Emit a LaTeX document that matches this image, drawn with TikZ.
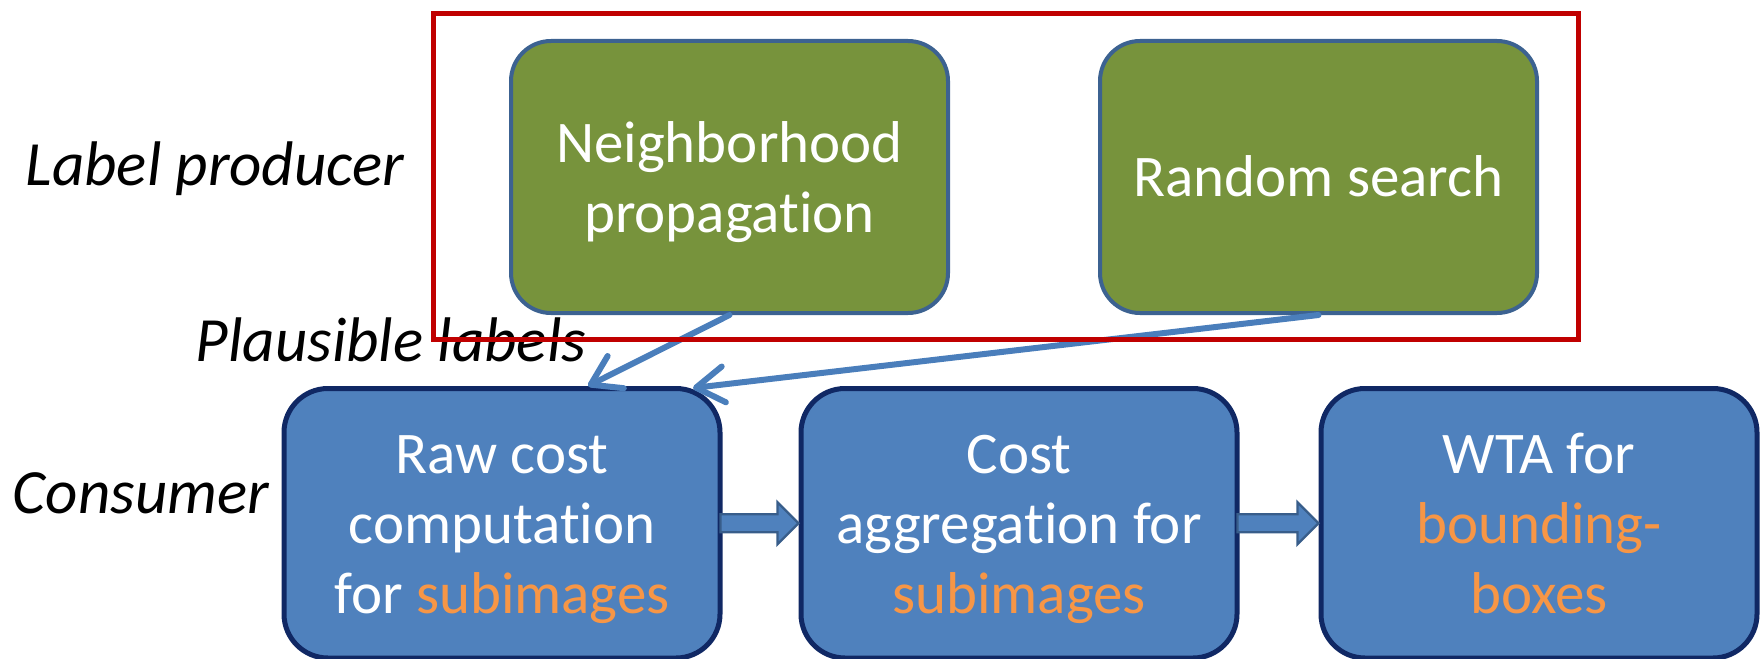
\documentclass[tikz,border=0pt]{standalone}
\usepackage{fontspec}
\setmainfont[Ligatures={NoCommon}]{Carlito}
\usetikzlibrary{arrows.meta,calc}
\definecolor{boxblue}{RGB}{79,129,189}
\definecolor{boxnavy}{RGB}{16,40,100}
\definecolor{boxgreen}{RGB}{119,147,60}
\definecolor{greenedge}{RGB}{60,98,145}
\definecolor{hiorange}{RGB}{247,150,70}
\definecolor{framered}{RGB}{192,0,0}
\definecolor{arrowblue}{RGB}{74,126,187}
\definecolor{blockedge}{RGB}{56,93,138}
\begin{document}
\begin{tikzpicture}[x=0.5pt,y=-0.5pt,
  greenbox/.style={draw=greenedge, line width=2pt, fill=boxgreen, rounded corners=20pt,
    minimum width=218.5pt, minimum height=136pt, inner sep=0pt},
  bluebox/.style={draw=boxnavy, line width=2.5pt, fill=boxblue, rounded corners=22pt,
    minimum width=218pt, minimum height=134.75pt, inner sep=0pt},
  boxtext/.style={text=white, font=\fontsize{29.5pt}{35pt}\selectfont, align=center, inner sep=0pt},
  lbl/.style={font=\fontsize{31.5pt}{36pt}\selectfont\itshape, anchor=base, inner sep=0pt},
  thinarrow/.style={draw=arrowblue, line width=3pt, line cap=round,
    -{Straight Barb[length=14pt,width=18pt,line cap=round,line join=round]}},
  blockarrow/.style={fill=boxblue, draw=blockedge, line width=1.2pt},
  frame/.style={draw=framered, line width=2.5pt, minimum width=572.5pt, minimum height=163pt, inner sep=0pt}
]
\useasboundingbox (0,0) rectangle (1760,658);

% label producer boxes
\node[greenbox] (g1) at (729.5,177) {};
\node[boxtext] (t1) at ($(g1.center)+(0,6)$) {\strut Neighborhood\\\strut propagation};
\node[greenbox] (g2) at (1318.5,177) {};
\node[boxtext] (t2) at ($(g2.center)+(0,5)$) {\strut Random search};

% consumer boxes
\node[bluebox] (b1) at (502,523.25) {};
\node[boxtext] (t3) at ($(b1.center)+(0,6.25)$) {\strut Raw cost\\\strut computation\\\strut for \textcolor{hiorange}{subimages}};
\node[bluebox] (b2) at (1019,523.25) {};
\node[boxtext] (t4) at ($(b2.center)+(0,6.25)$) {\strut Cost\\\strut aggregation for\\\strut \textcolor{hiorange}{subimages}};
\node[bluebox] (b3) at (1539,523.25) {};
\node[boxtext] (t5) at ($(b3.center)+(0,6.25)$) {\strut WTA for\\\strut \textcolor{hiorange}{bounding-}\\\strut \textcolor{hiorange}{boxes}};

% block arrows
\draw[blockarrow] ($(b1.east)+(-2,-9)$) -- ($(b2.west)+(-21,-9)$) -- ($(b2.west)+(-21,-21)$)
  -- (b2.west) -- ($(b2.west)+(-21,21)$) -- ($(b2.west)+(-21,9)$) -- ($(b1.east)+(-2,9)$) -- cycle;
\draw[blockarrow] ($(b2.east)+(-2,-9)$) -- ($(b3.west)+(-21,-9)$) -- ($(b3.west)+(-21,-21)$)
  -- (b3.west) -- ($(b3.west)+(-21,21)$) -- ($(b3.west)+(-21,9)$) -- ($(b2.east)+(-2,9)$) -- cycle;

% plausible label arrows
\draw[thinarrow] (g1.south) -- ($(b1.north)+(86,0)$);
\draw[thinarrow] (g2.south) -- ($(b1.north)+(191,2)$);

% side labels
\node[lbl] (lp) at (215,185) {Label producer};
\node[lbl] (pl) at (391,361) {Plausible labels};
\node[lbl] (cons) at (141,513) {Consumer};

% producer frame
\node[frame] (fr) at (1006,176.5) {};
\end{tikzpicture}
\end{document}
